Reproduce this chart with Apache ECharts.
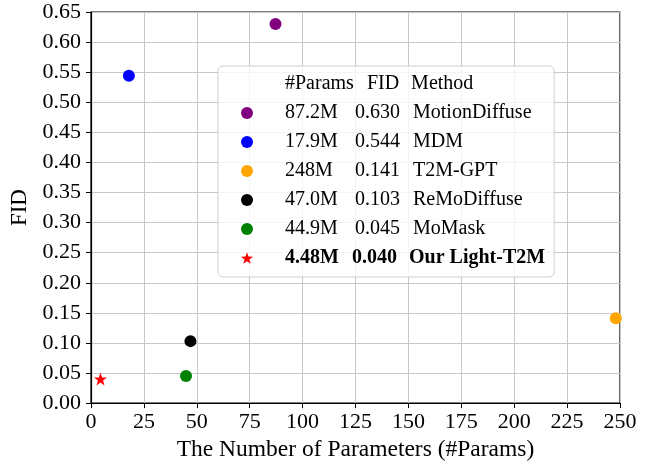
<!DOCTYPE html>
<html>
<head>
<meta charset="utf-8">
<script src="https://cdn.jsdelivr.net/npm/echarts@6/dist/echarts.min.js"></script>
<style>
html,body{margin:0;padding:0;background:#fff;}
#chart{width:650px;height:467px;}
</style>
</head>
<body>
<div id="chart"></div>
<script>
// ---- data ----
var methods = ['MotionDiffuse', 'MDM', 'T2M-GPT', 'ReMoDiffuse', 'MoMask', 'Our Light-T2M'];
var paramsM = [87.2, 17.9, 248, 47.0, 44.9, 4.48];
var paramLabels = ['87.2M', '17.9M', '248M', '47.0M', '44.9M', '4.48M'];
var fidValues = [0.630, 0.544, 0.141, 0.103, 0.045, 0.040];
var fidLabels = ['0.630', '0.544', '0.141', '0.103', '0.045', '0.040'];
var colors = ['#800080', '#0000ff', '#ffa500', '#000000', '#008000', '#ff0000'];
var headerCols = ['#Params', 'FID', 'Method'];
var xTicks = [0, 25, 50, 75, 100, 125, 150, 175, 200, 225, 250];
var yTicks = [0, 0.05, 0.1, 0.15, 0.2, 0.25, 0.3, 0.35, 0.4, 0.45, 0.5, 0.55, 0.6, 0.65];

var FONT = '"Liberation Serif", "DejaVu Serif", serif';
var HEADER = 'header';
var STAR = 'path://M0,-10L2.35,-3.24L9.51,-3.09L3.8,1.24L5.88,8.09L0,4L-5.88,8.09L-3.8,1.24L-9.51,-3.09L-2.35,-3.24Z';
var symbols = ['circle', 'circle', 'circle', 'circle', 'circle', STAR];

var series = [{
  name: HEADER, type: 'scatter', data: []
}];
var legendData = [{ name: HEADER, icon: 'none' }];
methods.forEach(function (m, i) {
  var isStar = symbols[i] === STAR;
  series.push({
    name: m,
    type: 'scatter',
    symbol: symbols[i],
    symbolSize: isStar ? 13 : 12,
    itemStyle: { color: colors[i], opacity: 1 },
    data: [[paramsM[i], fidValues[i]]],
    z: 3
  });
  legendData.push({ name: m, icon: symbols[i], itemStyle: { color: colors[i] } });
});

var chart = echarts.init(document.getElementById('chart'));
chart.setOption({
  animation: false,
  backgroundColor: '#ffffff',
  textStyle: { fontFamily: FONT },
  grid: {
    left: 91, right: 30, top: 12, bottom: 62,
    show: true, borderColor: '#000', borderWidth: 1.2, backgroundColor: 'transparent'
  },
  xAxis: {
    type: 'value', min: xTicks[0], max: xTicks[xTicks.length - 1], interval: 25,
    name: 'The Number of Parameters (#Params)', nameLocation: 'middle', nameGap: 28,
    nameTextStyle: { fontFamily: FONT, fontSize: 23.5, color: '#000' },
    axisLine: { show: true, onZero: false, lineStyle: { color: '#000', width: 1.2 } },
    axisTick: { show: true, inside: false, length: 5, lineStyle: { color: '#000', width: 1 } },
    axisLabel: { fontFamily: FONT, fontSize: 22, color: '#000', margin: 8 },
    splitLine: { show: true, lineStyle: { color: '#c8c8c8', width: 1 } }
  },
  yAxis: {
    type: 'value', min: yTicks[0], max: yTicks[yTicks.length - 1], interval: 0.05,
    name: 'FID', nameLocation: 'middle', nameGap: 58, nameRotate: 90,
    nameTextStyle: { fontFamily: FONT, fontSize: 23, color: '#000' },
    axisLine: { show: true, onZero: false, lineStyle: { color: '#000', width: 1.2 } },
    axisTick: { show: true, inside: false, length: 5, lineStyle: { color: '#000', width: 1 } },
    axisLabel: { fontFamily: FONT, fontSize: 22, color: '#000', margin: 10,
      formatter: function (v) { return v.toFixed(2); } },
    splitLine: { show: true, lineStyle: { color: '#c8c8c8', width: 1 } }
  },
  legend: {
    show: true,
    orient: 'vertical',
    left: 218, top: 66,
    padding: [7, 9, 8, 23],
    itemGap: 7,
    itemWidth: 12, itemHeight: 12,
    backgroundColor: 'rgba(255,255,255,0.8)',
    borderColor: '#d0d0d0', borderWidth: 1, borderRadius: 5,
    selectedMode: false,
    data: legendData,
    textStyle: {
      fontFamily: FONT, fontSize: 20, color: '#000', lineHeight: 22,
      rich: {
        s: { width: 27 },
        ha: { padding: [0, 13, 0, 0], fontFamily: FONT, fontSize: 20 },
        hb: { padding: [0, 12, 0, 0], fontFamily: FONT, fontSize: 20 },
        hc: { fontFamily: FONT, fontSize: 20 },
        a: { width: 70, align: 'left', fontFamily: FONT, fontSize: 20 },
        b: { width: 46, align: 'left', fontFamily: FONT, fontSize: 20 },
        c: { padding: [0, 0, 0, 12], fontFamily: FONT, fontSize: 20 },
        ab: { width: 67, align: 'left', fontFamily: FONT, fontSize: 20, fontWeight: 'bold' },
        bb: { width: 46, align: 'left', fontFamily: FONT, fontSize: 20, fontWeight: 'bold' },
        cb: { padding: [0, 0, 0, 11], fontFamily: FONT, fontSize: 20, fontWeight: 'bold' }
      }
    },
    formatter: function (name) {
      if (name === HEADER) {
        return '{s| }{ha|' + headerCols[0] + '}{hb|' + headerCols[1] + '}{hc|' + headerCols[2] + '}';
      }
      var i = methods.indexOf(name);
      var bold = (i === methods.length - 1);
      var sfx = bold ? 'b' : '';
      return '{s| }{a' + sfx + '|' + paramLabels[i] + '}{b' + sfx + '|' + fidLabels[i] + '}{c' + sfx + '|' + methods[i] + '}';
    }
  },
  series: series
});
</script>
</body>
</html>
